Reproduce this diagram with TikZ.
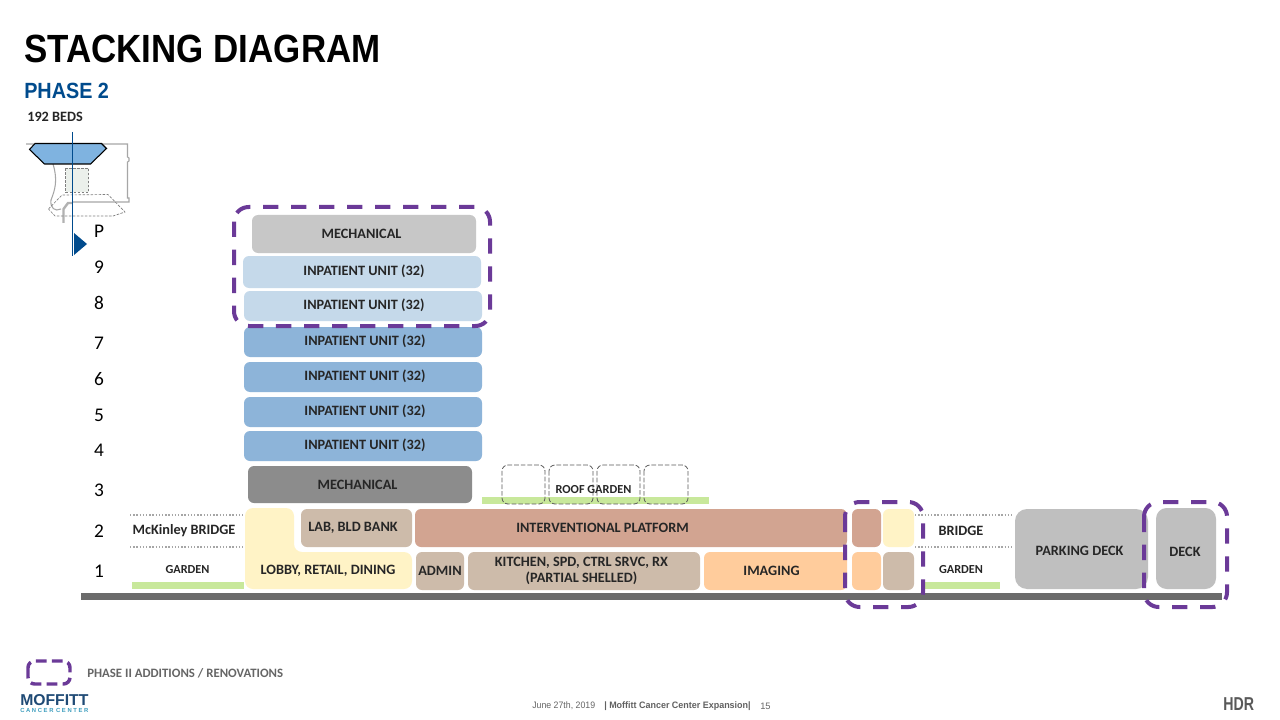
\documentclass[tikz,border=0pt]{standalone}
\usepackage{fontspec}
\setmainfont{Carlito}
\newfontfamily\arialf{Liberation Sans}
\usetikzlibrary{calc}
\definecolor{tanc}{HTML}{CDBBAA}
\definecolor{coral}{HTML}{D2A491}
\definecolor{peach}{HTML}{FFCC9C}
\definecolor{lobby}{HTML}{FFF3C6}
\definecolor{ltblue}{HTML}{C5D9EA}
\definecolor{midblue}{HTML}{8DB4D9}
\definecolor{keyblue}{HTML}{7FB3E0}
\definecolor{purp}{HTML}{6B3A98}
\definecolor{grn}{HTML}{C8E89B}
\definecolor{navy}{HTML}{004B8D}
\definecolor{moffblue}{HTML}{1F4A75}
\definecolor{moffteal}{HTML}{3C9DBE}
\tikzset{
  x=0.75pt,y=-0.75pt,
  room/.style={rounded corners=4.5pt,inner sep=0pt,outer sep=0pt},
  garden/.style={fill=grn,draw=none},
  phase/.style={draw=purp,line width=3pt,rounded corners=11pt,dash pattern=on 11.5pt off 9.5pt,line cap=butt},
  lab/.style={align=center,font=\bfseries\fontsize{10.7}{12}\selectfont,text=black!85,inner sep=0pt},
  smalllab/.style={lab,font=\bfseries\fontsize{9.2}{11}\selectfont},
  floorlab/.style={font=\fontsize{14.5}{16}\selectfont,text=black,inner sep=0pt},
  dots/.style={draw=black!35,line width=0.9pt,dash pattern=on 1pt off 1.4pt},
  plan/.style={draw=black!35,line width=0.8pt},
  pland/.style={draw=black!50,line width=0.5pt,dash pattern=on 2pt off 1pt},
  roofbox/.style={draw=black!65,line width=0.6pt,rounded corners=4.5pt,dash pattern=on 3.5pt off 1.5pt}
}
% name, x0, y0, x1, y1, colour
\newcommand{\bx}[6]{\node[room,fill=#6,minimum width={(#4-#2)*0.75pt},minimum height={(#5-#3)*0.75pt}] (#1) at ({(#2+#4)/2},{(#3+#5)/2}) {};}
\begin{document}
\begin{tikzpicture}
\useasboundingbox (0,0) rectangle (1280,720);
\fill[white] (0,0) rectangle (1280,720);
% titles
\node[anchor=west,inner sep=0pt,font=\arialf\bfseries\fontsize{29.5}{32}\selectfont,text=black] (title) at (24,49) {\scalebox{0.888}[1]{STACKING DIAGRAM}};
\node[anchor=west,inner sep=0pt,font=\arialf\bfseries\fontsize{16.5}{18}\selectfont,text=navy] (sub) at (24,91) {\scalebox{0.9}[1]{PHASE 2}};
\node[anchor=west,inner sep=0pt,font=\bfseries\fontsize{10.7}{12}\selectfont,text=black!85] (beds) at (27,117) {192 BEDS};
% key plan
\draw[plan] (26,144) -- (127.5,144) -- (127.5,157) -- (129,158) -- (129,161) -- (127.5,162) -- (127.5,198) -- (129,198) -- (129,202) -- (72,202);
\draw[plan] (53,164) .. controls (58,180) and (55,190) .. (51,200) .. controls (50,208) and (55,212) .. (61,209);
\draw[draw=black!30,line width=1.8pt] (63.5,223) -- (63.5,209) -- (68,203) -- (72,203);
\draw[pland] (48.5,209) -- (62,195) -- (108,194.5) -- (125,212) -- (113,216) -- (55,216) -- cycle;
\draw[pland,fill=green!25!black!8] (65.5,168.5) rectangle (88.5,192.5);
\draw[draw=black,fill=keyblue,line width=0.8pt] (35,143.5) -- (101.5,143.5) -- (106.5,148.5) -- (90.5,164) -- (44.5,164) -- (29.5,149.5) -- cycle;
\draw[draw=navy,line width=0.8pt] (72.5,132) -- (72.5,256);
\fill[navy] (74,233) -- (87,244) -- (74,255) -- cycle;
% floor labels
\foreach \n/\t/\y in {fp/P/231,f9/9/267,f8/8/303,f7/7/343,f6/6/379,f5/5/415,f4/4/450,f3/3/490,f2/2/531,f1/1/571}
  \node[floorlab] (\n) at (99,\y) {\t};
% tower
\bx{mechtop}{252}{215}{476}{253}{black!22}
\bx{iuNine}{243}{256}{481}{288}{ltblue}
\bx{iuEight}{244}{291}{482}{321}{ltblue}
\bx{iuSeven}{244}{327}{482}{357}{midblue}
\bx{iuSix}{244}{362}{482}{392}{midblue}
\bx{iuFive}{244}{397}{482}{427}{midblue}
\bx{iuFour}{244}{431}{482}{461}{midblue}
\bx{mechlow}{248}{466}{472}{503}{black!45}
\node[lab] (tmechtop) at (361.5,233.5) {MECHANICAL};
\node[lab] (tnine) at (364,271.5) {INPATIENT UNIT (32)};
\node[lab] (teight) at (364,305.5) {INPATIENT UNIT (32)};
\node[lab] (tseven) at (365,341.5) {INPATIENT UNIT (32)};
\node[lab] (tsix) at (365,376.5) {INPATIENT UNIT (32)};
\node[lab] (tfive) at (365,411.5) {INPATIENT UNIT (32)};
\node[lab] (tfour) at (365,445.5) {INPATIENT UNIT (32)};
\node[lab] (tmechlow) at (357.5,484.5) {MECHANICAL};
% green strips
\fill[garden] (132,582) rectangle (244,589);
\fill[garden] (924,582) rectangle (1000,589);
\fill[garden] (482,497) rectangle (709,504);
% roof garden
\foreach \a/\b in {502/545,549/593,597/640,644/688}
  \draw[roofbox] (\a,465) rectangle (\b,504);
\node[smalllab] (roof) at (593.5,490) {ROOF GARDEN};
% level 1 and 2
\fill[lobby,rounded corners=6pt] (245,589) -- (245,508) -- (294,508) -- (294,552) -- (412,552) -- (412,589) -- cycle;
\node[lab] (lobby) at (328,570.5) {LOBBY, RETAIL, DINING};
\bx{labb}{301}{509}{412}{547}{tanc}
\bx{interv}{415}{509}{847}{547}{coral}
\bx{admin}{416}{552}{464}{590}{tanc}
\bx{kitchen}{468}{552}{700}{590}{tanc}
\bx{imaging}{704}{552}{847}{590}{peach}
\bx{sa}{852}{509}{881}{547}{coral}
\bx{sb}{883}{509}{914}{547}{lobby}
\bx{sc}{852}{552}{881}{590}{peach}
\bx{sd}{883}{552}{914}{590}{tanc}
\node[lab] (tlab) at (353,527.5) {LAB, BLD BANK};
\node[lab] (tinterv) at (602.5,527.5) {INTERVENTIONAL PLATFORM};
\node[lab] (tadmin) at (440,570.5) {ADMIN};
\node[lab,font=\bfseries\fontsize{10.7}{12}\selectfont] (tkitchen) at (581.5,570.5) {KITCHEN, SPD, CTRL SRVC, RX\\(PARTIAL SHELLED)};
\node[lab] (timaging) at (771.5,570.5) {IMAGING};
\node[room,fill=black!25,rounded corners=9pt,minimum width={133*0.75pt},minimum height={80*0.75pt}] (parking) at (1081.5,549) {};
\node[room,fill=black!25,rounded corners=8pt,minimum width={60*0.75pt},minimum height={81*0.75pt}] (deck) at (1186,548.5) {};
\node[lab] (tparking) at (1079.5,550.5) {PARKING DECK};
\node[lab] (tdeck) at (1185,551.5) {DECK};
% dotted bridge lines
\coordinate (mka) at (130,515); \coordinate (mkb) at (244,515);
\coordinate (mkc) at (130,547); \coordinate (mkd) at (244,547);
\coordinate (bra) at (915,515); \coordinate (brb) at (1012,515);
\coordinate (brc) at (915,547); \coordinate (brd) at (1012,547);
\draw[dots] (mka) -- (mkb); \draw[dots] (mkc) -- (mkd);
\draw[dots] (bra) -- (brb); \draw[dots] (brc) -- (brd);
\node[lab] (mck) at (184,531) {McKinley BRIDGE};
\node[smalllab] (g1) at (187.5,570) {GARDEN};
\node[lab] (bridge) at (961,530.5) {BRIDGE};
\node[smalllab] (g2) at (961,570) {GARDEN};
% ground
\fill[black!58] (81,593) rectangle (1222,600);
% phase outlines
\draw[phase] (234,207) rectangle (490,326);
\draw[phase] (845,502) rectangle (923,607);
\draw[phase] (1144,502) rectangle (1227,607);
% legend
\draw[phase,line width=2.6pt,rounded corners=5pt,dash pattern=on 8pt off 4pt] (28,661) rectangle (70,684);
\node[anchor=west,inner sep=0pt,font=\bfseries\fontsize{9.6}{11}\selectfont,text=black!60] (legend) at (87,673) {PHASE II ADDITIONS / RENOVATIONS};
\node[anchor=west,inner sep=0pt,font=\arialf\bfseries\fontsize{11.8}{13}\selectfont,text=moffblue] (moff) at (20,700) {MOFFITT};
\node[anchor=west,inner sep=0pt,font=\arialf\bfseries\fontsize{4.4}{5}\selectfont,text=moffteal] (cc) at (20,710.5) {C A N C E R\, C E N T E R};
% footer
\node[anchor=west,inner sep=0pt,font=\arialf\fontsize{7}{8}\selectfont,text=black!60] (date) at (532,706) {\scalebox{0.94}[1]{June 27th, 2019}};
\node[anchor=west,inner sep=0pt,font=\arialf\bfseries\fontsize{7}{8}\selectfont,text=black!62] (proj) at (604,706) {\scalebox{0.96}[1]{| Moffitt Cancer Center Expansion|}};
\node[anchor=west,inner sep=0pt,font=\arialf\fontsize{7}{8}\selectfont,text=black!60] (pg) at (760,706) {15};
\node[anchor=west,inner sep=0pt,font=\arialf\bfseries\fontsize{14}{15}\selectfont,text=black!65] (hdr) at (1223,704.5) {\scalebox{0.76}[1]{HDR}};
\end{tikzpicture}
\end{document}
